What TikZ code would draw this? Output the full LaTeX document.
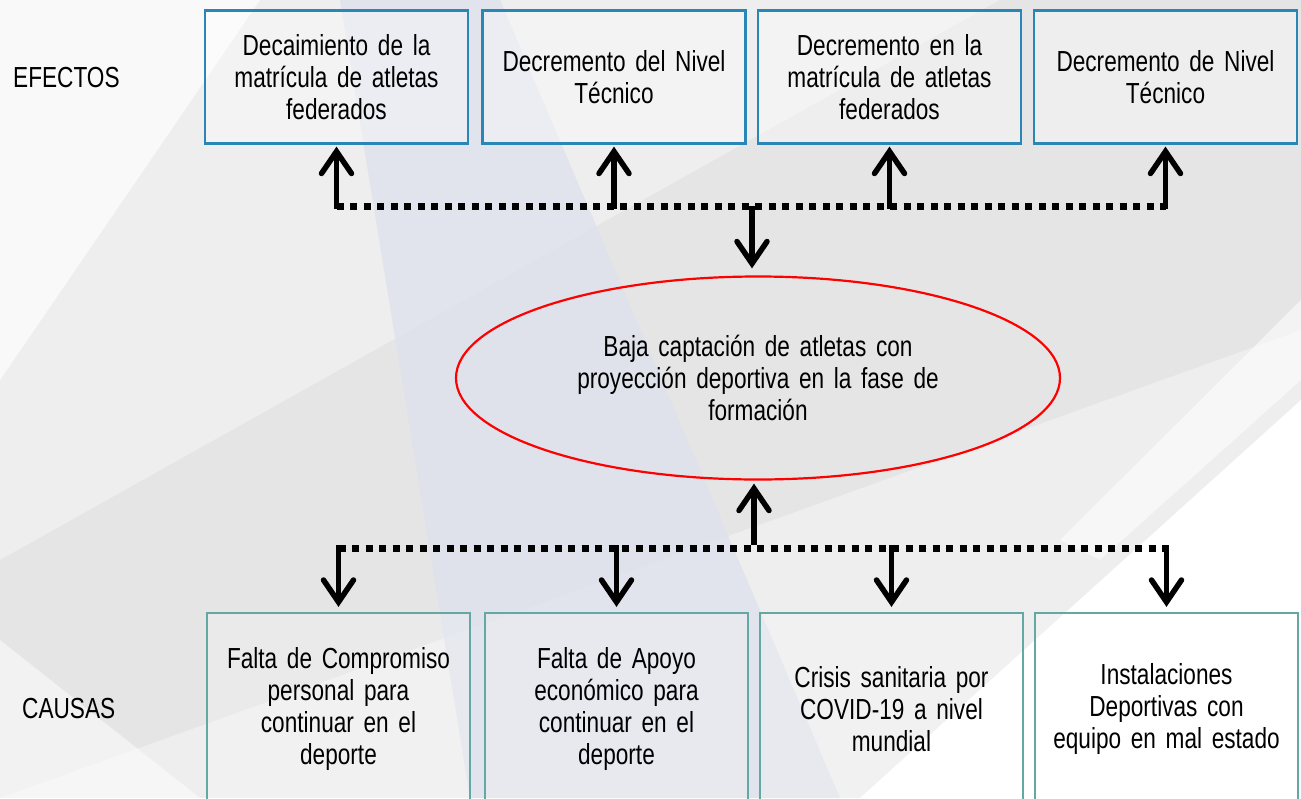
\documentclass[tikz,border=0pt]{standalone}
\usepackage{fontspec}
\setmainfont{Liberation Sans}[FakeStretch=0.78]
\usetikzlibrary{shapes.geometric,arrows.meta}
\definecolor{effblue}{HTML}{2A86B4}
\definecolor{causeteal}{HTML}{63A8A2}
\definecolor{bgbase}{HTML}{EEEEEE}
\definecolor{bgblue}{HTML}{DEE2EC}
\newcommand{\diagfont}{\fontsize{29}{32}\selectfont\fontdimen2\font=6pt\relax}
\begin{document}
\begin{tikzpicture}[x=1pt,y=-1pt,
  every node/.style={font=\diagfont, text=black},
  effbox/.style={draw=effblue, line width=2.2pt, fill=white, fill opacity=0.35, text opacity=1,
    minimum width=263pt, minimum height=133pt, text width=250pt, align=center, inner sep=0pt},
  causebox/.style={draw=causeteal, line width=2.2pt, fill=white, fill opacity=0.2, text opacity=1,
    minimum width=263pt, minimum height=192pt, text width=250pt, align=center, inner sep=0pt},
  probnode/.style={ellipse, draw=red, line width=2.2pt, minimum width=604pt, minimum height=203pt,
    text width=380pt, align=center, inner sep=0pt},
  sidelabel/.style={anchor=west, inner sep=0pt},
  arr/.style={line width=5.5pt, -{Straight Barb[length=22pt, width=30pt, line width=5.5pt, line cap=round]}},
  dotbar/.style={line width=7pt, dash pattern=on 7pt off 6.5pt},
]
\useasboundingbox (0,0) rectangle (1301,798);
\begin{scope}
\clip (0,0) rectangle (1301,798);
% background
\fill[bgbase] (0,0) rectangle (1301,798);
\fill[white, opacity=0.7] (0,0) -- (260,0) -- (0,380) -- cycle;
\fill[black, opacity=0.035] (1301,0) -- (1301,330) -- (0,798) -- (0,560) -- (1000,0) -- cycle;
\fill[bgblue, opacity=0.8] (340,0) -- (500,0) -- (840,798) -- (470,798) -- cycle;
\fill[white, opacity=0.55] (1301,300) -- (1301,380) -- (1100,560) -- (1060,540) -- cycle;
\fill[white] (1301,400) -- (1301,798) -- (860,798) -- cycle;
\fill[white, opacity=0.5] (0,640) -- (0,798) -- (200,798) -- cycle;

% nodes
\node[sidelabel] (lblE) at (13,78) {EFECTOS};
\node[sidelabel] (lblC) at (22,709) {CAUSAS};

\node[effbox] (e1) at (336.5,77) {Decaimiento de la\\matrícula de atletas\\federados};
\node[effbox] (e2) at (614,77) {Decremento del Nivel\\Técnico};
\node[effbox] (e3) at (889.5,77) {Decremento en la\\matrícula de atletas\\federados};
\node[effbox] (e4) at (1165.5,77) {Decremento de Nivel\\Técnico};

\node[probnode] (prob) at (758,378) {Baja captación de atletas con\\proyección deportiva en la fase de\\formación};

\node[causebox] (c1) at (338.5,709) {Falta de Compromiso\\personal para\\continuar en el\\deporte};
\node[causebox] (c2) at (616.5,709) {Falta de Apoyo\\económico para\\continuar en el\\deporte};
\node[causebox] (c3) at (891.5,709) {Crisis sanitaria por\\COVID-19 a nivel\\mundial};
\node[causebox] (c4) at (1166.5,709) {Instalaciones\\Deportivas con\\equipo en mal estado};

\coordinate (topbar) at (0,206);
\coordinate (botbar) at (0,548);

% top connectors
\draw[dotbar] (e1.south |- topbar) -- (e4.south |- topbar);
\foreach \n in {e1,e2,e3,e4}{
  \draw[arr] ([yshift=-3pt]\n.south |- topbar) -- ([yshift=-2pt]\n.south);
}
\draw[arr] ([xshift=-6pt]prob.north |- topbar) -- ([xshift=-6pt,yshift=7pt]prob.north);

% bottom connectors
\draw[dotbar] (c1.north |- botbar) -- (c4.north |- botbar);
\draw[arr] ([xshift=-4pt,yshift=3pt]prob.south |- botbar) -- ([xshift=-4pt,yshift=-3pt]prob.south);
\foreach \n in {c1,c2,c3,c4}{
  \draw[arr] ([yshift=3pt]\n.north |- botbar) -- ([yshift=5pt]\n.north);
}
\end{scope}
\end{tikzpicture}
\end{document}
